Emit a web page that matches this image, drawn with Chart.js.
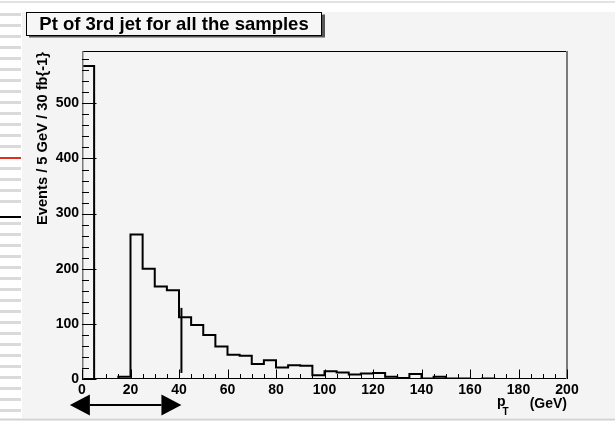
<!DOCTYPE html>
<html>
<head>
<meta charset="utf-8">
<script src="https://cdn.jsdelivr.net/npm/chart.js@4.4.1/dist/chart.umd.min.js"></script>
<style>
  html, body { margin: 0; padding: 0; background: #fff; }
  canvas { display: block; }
</style>
</head>
<body>
<canvas id="ptChart" width="615" height="423"></canvas>
<script>
// bin edges of the 5 GeV histogram
const binEdges = [0, 5, 10, 15, 20, 25, 30, 35, 40, 45, 50, 55, 60, 65, 70, 75, 80, 85, 90, 95,
    100, 105, 110, 115, 120, 125, 130, 135, 140, 145, 150, 155, 160, 165, 170, 175, 180, 185, 190, 195, 200];
// events per bin
const events = [568, 0, 0, 4, 262, 200, 168, 161, 112, 98, 80, 59, 44, 42, 27, 34, 21, 25, 24, 7,
    14, 12, 8, 10, 11, 4, 2, 9, 1, 4, 1, 1, 0, 1, 0, 0, 0, 0, 0, 0];
const xTicks = [0, 20, 40, 60, 80, 100, 120, 140, 160, 180, 200];
const yTicks = [0, 100, 200, 300, 400, 500];
// cut marker and arrow below the axis (GeV / events)
const cutLineX = [41, 41];
const cutLineY = [11, 129];
const arrowRange = [-5, 41];

const FONT = '"Liberation Sans", Arial, Helvetica, sans-serif';

// outline of the histogram: two corners per bin
const histPoints = [{ x: binEdges[0], y: 0 }];
events.forEach((v, i) => {
    histPoints.push({ x: binEdges[i], y: v });
    histPoints.push({ x: binEdges[i + 1], y: v });
});
histPoints.push({ x: binEdges[binEdges.length - 1], y: 0 });

const cutPoints = cutLineX.map((x, i) => ({ x: x, y: cutLineY[i] }));

// ROOT-like canvas decorations, frame, inside ticks and titles
const rootStyle = {
    id: 'rootStyle',
    beforeDraw(chart) {
        const ctx = chart.ctx;
        ctx.save();
        ctx.fillStyle = '#ffffff';
        ctx.fillRect(0, 0, 615, 423);
        ctx.fillStyle = '#e2e2e2';
        ctx.fillRect(0, 1, 615, 2);
        ctx.fillStyle = '#f4f4f4';
        ctx.fillRect(22, 12, 593, 406);
        ctx.fillStyle = '#d2d2d2';
        ctx.fillRect(0, 418.5, 615, 2);

        // slide strip on the left
        for (let k = 0; 14 + 11 * k < 414; k++) {
            if (k === 13 || k === 18) continue;
            ctx.fillStyle = '#dadada';
            ctx.fillRect(0, 13 + 11 * k, 21, 3);
        }
        ctx.fillStyle = '#e0311f';
        ctx.fillRect(0, 157, 21, 2);
        ctx.fillStyle = '#000';
        ctx.fillRect(0, 216, 21, 2);

        // title box with shadow
        ctx.fillStyle = '#555';
        ctx.fillRect(29, 14.5, 296, 23);
        ctx.fillStyle = '#f6f6f6';
        ctx.fillRect(27, 12, 295, 23);
        ctx.strokeStyle = '#000';
        ctx.lineWidth = 1;
        ctx.strokeRect(26.5, 12.5, 295, 23);
        ctx.fillStyle = '#000';
        ctx.font = 'bold 18.5px ' + FONT;
        ctx.textAlign = 'center';
        ctx.textBaseline = 'alphabetic';
        ctx.fillText('Pt of 3rd jet for all the samples', 174, 29.5);
        ctx.restore();
    },
    afterDatasetsDraw(chart) {
        const ctx = chart.ctx;
        const a = chart.chartArea;
        const xs = chart.scales.x, ys = chart.scales.y;
        ctx.save();

        // frame
        ctx.strokeStyle = '#000';
        ctx.lineWidth = 1;
        ctx.beginPath();
        ctx.moveTo(a.left, a.top + 0.5);
        ctx.lineTo(a.right, a.top + 0.5);
        ctx.moveTo(a.left, a.bottom - 0.5);
        ctx.lineTo(a.right, a.bottom - 0.5);
        ctx.stroke();
        ctx.strokeStyle = '#7a7a7a';
        ctx.lineWidth = 2;
        ctx.beginPath();
        ctx.moveTo(a.right, a.top);
        ctx.lineTo(a.right, a.bottom);
        ctx.stroke();
        ctx.lineWidth = 1.5;
        ctx.beginPath();
        ctx.moveTo(a.left + 0.75, a.top);
        ctx.lineTo(a.left + 0.75, a.bottom);
        ctx.stroke();

        // inside ticks
        ctx.strokeStyle = '#000';
        ctx.lineWidth = 1;
        ctx.beginPath();
        binEdges.forEach(v => {
            const px = Math.round(xs.getPixelForValue(v)) + 0.5;
            const len = xTicks.includes(v) ? 9.5 : 5;
            ctx.moveTo(px, a.bottom);
            ctx.lineTo(px, a.bottom - len);
        });
        for (let v = 0; v <= ys.max; v += 20) {
            const py = Math.round(ys.getPixelForValue(v)) + 0.5;
            const len = yTicks.includes(v) ? 14.5 : 7;
            ctx.moveTo(a.left, py);
            ctx.lineTo(a.left + len, py);
        }
        ctx.stroke();

        // y axis title, aligned to the top of the frame
        ctx.fillStyle = '#000';
        ctx.font = 'bold 14.7px ' + FONT;
        ctx.save();
        ctx.translate(47, a.top + 1);
        ctx.rotate(-Math.PI / 2);
        ctx.textAlign = 'right';
        ctx.textBaseline = 'alphabetic';
        ctx.fillText('Events / 5 GeV / 30 fb{-1}', 0, 0);
        ctx.restore();

        // x axis title p_T (GeV)
        ctx.font = 'bold 14px ' + FONT;
        ctx.textAlign = 'right';
        ctx.fillText('(GeV)', a.right, 408);
        ctx.textAlign = 'left';
        ctx.fillText('p', 497, 406);
        ctx.font = 'bold 10px ' + FONT;
        ctx.fillText('T', 502.5, 415);

        // double arrow under the axis
        const x0 = xs.getPixelForValue(arrowRange[0]);
        const x1 = xs.getPixelForValue(arrowRange[1]);
        const ay = 405, head = 20, half = 10.5;
        ctx.lineWidth = 2;
        ctx.beginPath();
        ctx.moveTo(x0 + head, ay);
        ctx.lineTo(x1 - head, ay);
        ctx.stroke();
        ctx.beginPath();
        ctx.moveTo(x0, ay);
        ctx.lineTo(x0 + head, ay - half);
        ctx.lineTo(x0 + head, ay + half);
        ctx.closePath();
        ctx.moveTo(x1, ay);
        ctx.lineTo(x1 - head, ay - half);
        ctx.lineTo(x1 - head, ay + half);
        ctx.closePath();
        ctx.fill();
        ctx.restore();
    }
};

new Chart(document.getElementById('ptChart').getContext('2d'), {
    type: 'line',
    data: {
        datasets: [{
            data: histPoints,
            borderColor: '#000',
            borderWidth: 2,
            pointRadius: 0,
            tension: 0,
            fill: false
        }, {
            data: cutPoints,
            borderColor: '#000',
            borderWidth: 2,
            pointRadius: 0,
            fill: false
        }]
    },
    options: {
        responsive: false,
        animation: false,
        events: [],
        layout: { padding: { left: 22, top: 51, right: 48, bottom: 0 } },
        plugins: { legend: { display: false }, tooltip: { enabled: false } },
        scales: {
            x: {
                type: 'linear',
                min: 0,
                max: 200,
                afterBuildTicks: s => { s.ticks = xTicks.map(v => ({ value: v })); },
                afterFit: s => { s.height = 44; },
                grid: { display: false, drawTicks: false },
                border: { display: false },
                ticks: {
                    color: '#000',
                    padding: 3,
                    maxRotation: 0,
                    autoSkip: false,
                    font: { family: FONT, size: 14, weight: 'bold' }
                }
            },
            y: {
                type: 'linear',
                min: 0,
                max: 595,
                afterBuildTicks: s => { s.ticks = yTicks.map(v => ({ value: v })); },
                afterFit: s => { s.width = 60; },
                grid: { display: false, drawTicks: false },
                border: { display: false },
                ticks: {
                    color: '#000',
                    padding: 3,
                    autoSkip: false,
                    font: { family: FONT, size: 14, weight: 'bold' }
                }
            }
        }
    },
    plugins: [rootStyle]
});
</script>
</body>
</html>
